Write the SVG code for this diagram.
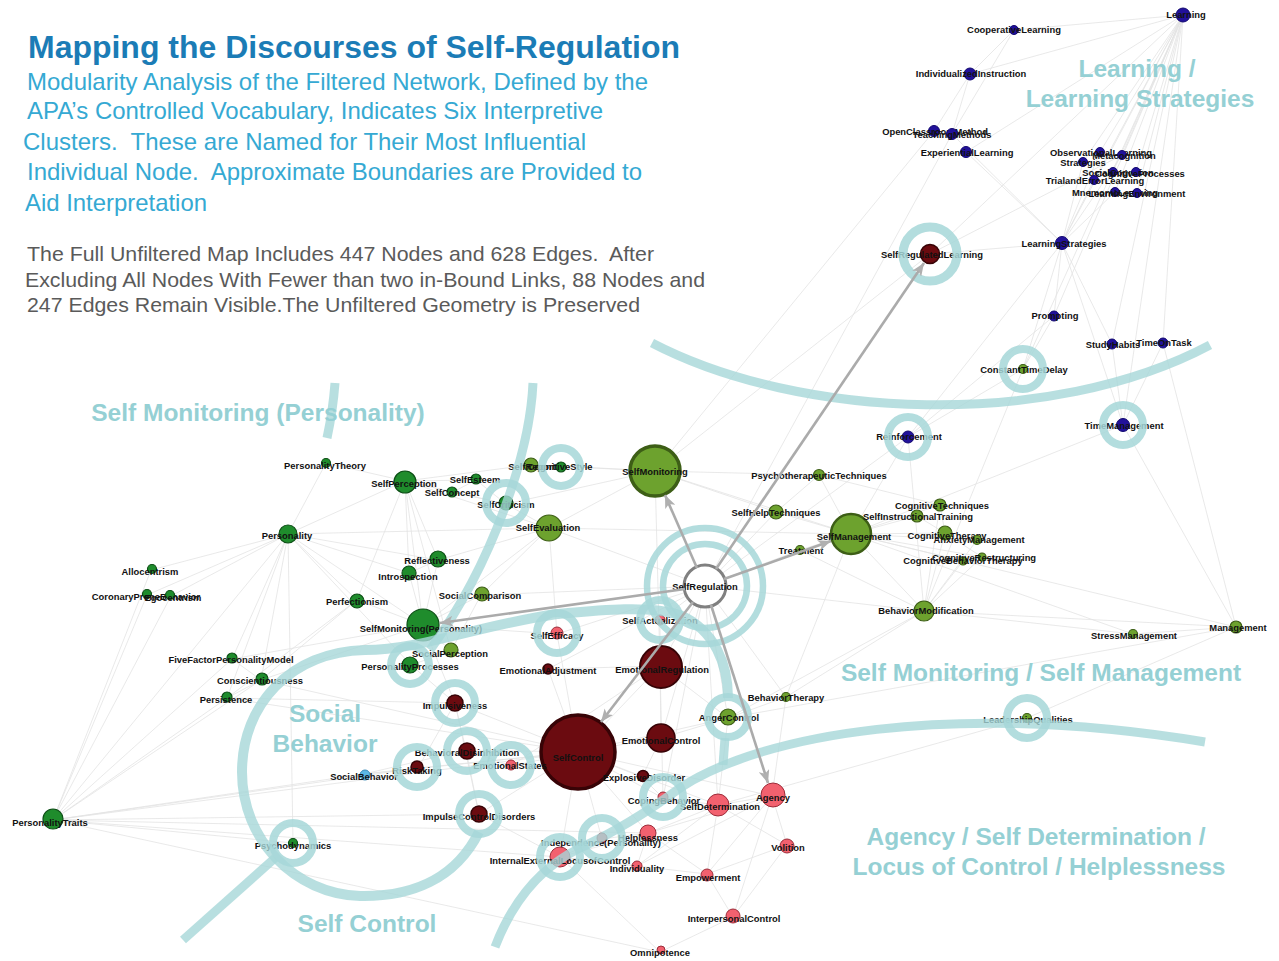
<svg xmlns="http://www.w3.org/2000/svg" width="1279" height="961" viewBox="0 0 1279 961">
<style>
.e{fill:none;stroke:#e3e3e3;stroke-width:0.8}
.a{fill:none;stroke:#ababab;stroke-width:2.6;marker-end:url(#ah)}
.nb{fill:#22119a;stroke:#120870;stroke-width:1}
.ng{fill:#1f8c2c;stroke:#0d4f16;stroke-width:1.2}
.no{fill:#6da22e;stroke:#3d5e16;stroke-width:1.2}
.nr{fill:#6b0b10;stroke:#370306;stroke-width:1.5}
.np{fill:#f2616f;stroke:#9c2c39;stroke-width:1}
.nl{fill:#5cb8e4;stroke:#3b8cb8;stroke-width:1}
.lb{font-family:"Liberation Sans",Arial,sans-serif;font-weight:bold;font-size:9.4px;fill:#111;text-anchor:middle}
.ring{fill:none;stroke:#a6d7d8;stroke-width:8;opacity:0.85}
.zone{fill:none;stroke:#a6d7d8;stroke-width:9;opacity:0.8}
.cl{font-family:"Liberation Sans",Arial,sans-serif;font-weight:bold;font-size:24.5px;fill:#95d0d4;text-anchor:middle}
.sub{font-family:"Liberation Sans Narrow","Liberation Sans",Arial,sans-serif;font-size:24px;fill:#35a9d3}
.gry{font-family:"Liberation Sans Narrow","Liberation Sans",Arial,sans-serif;font-size:21px;fill:#5a5a5a}
</style>
<defs>
<marker id="ah" viewBox="0 0 12 10" refX="12" refY="5" markerWidth="13" markerHeight="11" orient="auto" markerUnits="userSpaceOnUse"><path d="M0,0 L12,5 L0,10 L3,5 z" fill="#b0b0b0"/></marker>
</defs>
<rect width="1279" height="961" fill="#ffffff"/>

<g id="title-block">
<text x="28" y="58" font-family="Liberation Sans, Arial, sans-serif" font-weight="bold" font-size="31" fill="#1b7cb6" textLength="652" lengthAdjust="spacingAndGlyphs">Mapping the Discourses of Self-Regulation</text>
<text class="sub" x="27" y="90" textLength="621" lengthAdjust="spacingAndGlyphs">Modularity Analysis of the Filtered Network, Defined by the</text>
<text class="sub" x="27" y="119" textLength="576" lengthAdjust="spacingAndGlyphs">APA’s Controlled Vocabulary, Indicates Six Interpretive</text>
<text class="sub" x="23" y="150" textLength="563" lengthAdjust="spacingAndGlyphs" xml:space="preserve">Clusters.  These are Named for Their Most Influential</text>
<text class="sub" x="27" y="180" textLength="615" lengthAdjust="spacingAndGlyphs" xml:space="preserve">Individual Node.  Approximate Boundaries are Provided to</text>
<text class="sub" x="25" y="211" textLength="182" lengthAdjust="spacingAndGlyphs">Aid Interpretation</text>
<text class="gry" x="27" y="261" textLength="627" lengthAdjust="spacingAndGlyphs" xml:space="preserve">The Full Unfiltered Map Includes 447 Nodes and 628 Edges.  After</text>
<text class="gry" x="25" y="287" textLength="680" lengthAdjust="spacingAndGlyphs">Excluding All Nodes With Fewer than two in-Bound Links, 88 Nodes and</text>
<text class="gry" x="27" y="312" textLength="613" lengthAdjust="spacingAndGlyphs">247 Edges Remain Visible.The Unfiltered Geometry is Preserved</text>
</g>

<g id="connectors">
<path class="e" d="M1183 15L1014 30M1183 15L970 74M1183 15L966 152M1183 15L1100 152M1183 15L1122 155M1183 15L1083 162M1183 15L1113 172M1183 15L1136 172M1183 15L1094 180M1183 15L1115 192M1183 15L1137 193M1183 15L1062 243M1183 15L1054 316M1183 15L1112 344M1183 15L1163 343M1183 15L930 254M1183 15L1123 425M1183 15L1023 369M1014 30L952 134M1014 30L970 74M970 74L952 134M970 74L934 131M934 131L655 471M952 134L705 586M966 152L1062 243M952 134L1062 243M1062 243L1083 162M1062 243L1122 155M1062 243L1100 152M1062 243L930 254M1062 243L1054 316M1062 243L1112 344M1062 243L1123 425M1062 243L1023 369M1062 243L908 437M1062 243L1115 192M1062 243L1094 180M930 254L1122 155M930 254L655 471M1054 316L1023 369M1054 316L908 437M1112 344L1123 425M1163 343L1123 425M1163 343L1236 627M1123 425L1236 627M1123 425L851 534M908 437L924 611M908 437L851 534M908 437L705 586M1023 369L924 611M1023 369L908 437"/>
<path class="e" d="M851 534L800 550M851 534L776 512M851 534L819 475M851 534L940 505M851 534L917 516M851 534L945 533M851 534L977 540M851 534L963 561M851 534L982 557M851 534L924 611M851 534L1236 627M851 534L1133 634M851 534L655 471M851 534L786 697M851 534L549 528M924 611L945 533M924 611L963 561M924 611L982 557M924 611L940 505M924 611L977 540M924 611L1236 627M924 611L1133 634M924 611L786 697M924 611L728 718M924 611L705 586M924 611L800 550M819 475L776 512M819 475L655 471M819 475L940 505M776 512L655 471M776 512L705 586M800 550L705 586M940 505L945 533M917 516L945 533M945 533L982 557M1133 634L1236 627M1027 718L1236 627M1027 718L718 805M1236 627L728 718M655 471L549 528M655 471L561 466M655 471L530 465M655 471L506 504M655 471L660 666M705 586L549 528M705 586L481 595M705 586L557 634M705 586L660 620M705 586L660 666M705 586L786 697M705 586L728 718M705 586L663 798M705 586L718 805M705 586L661 738M705 586L548 669"/>
<path class="e" d="M288 534L326 463M288 534L405 481M288 534L151 570M288 534L171 596M288 534L147 595M288 534L409 573M288 534L438 560M288 534L357 600M288 534L423 625M288 534L232 659M288 534L261 680M288 534L227 698M288 534L411 665M288 534L549 528M288 534L293 843M405 481L476 480M405 481L453 492M405 481L506 504M405 481L409 573M405 481L438 560M405 481L423 625M405 481L326 463M405 481L451 651M405 481L530 465M405 481L549 528M405 481L357 600M423 625L438 560M423 625L409 573M423 625L357 600M423 625L481 595M423 625L451 651M423 625L411 665M423 625L455 703M423 625L557 634M423 625L549 528M423 625L232 659M423 625L261 680M438 560L409 573M438 560L549 528M506 504L549 528M506 504L453 492M506 504L476 480M476 480L453 492M549 528L481 595M549 528L557 634M481 595L451 651M451 651L411 665M411 665L455 703M357 600L261 680M357 600L227 698M232 659L261 680M261 680L227 698M53 820L151 570M53 820L147 595M53 820L171 596M53 820L227 698M53 820L261 680M53 820L232 659M53 820L364 774M53 820L418 768M53 820L293 843M53 820L479 814M53 820L578 752M53 820L560 857M53 820L288 534M53 820L648 833M53 820L660 952M261 680L578 752M227 698L578 752M227 698L455 703"/>
<path class="e" d="M578 752L660 666M578 752L661 738M578 752L548 669M578 752L455 703M578 752L466 750M578 752L418 768M578 752L511 766M578 752L479 814M578 752L642 777M578 752L663 798M578 752L718 805M578 752L648 833M578 752L560 857M578 752L602 839M578 752L364 774M578 752L728 718M578 752L557 634M578 752L772 796M660 666L661 738M660 666L548 669M660 666L660 620M660 666L728 718M660 666L663 798M660 666L511 766M661 738L728 718M661 738L642 777M455 703L466 750M455 703L479 814M455 703L418 768M364 774L418 768M364 774L466 750M466 750L479 814M466 750L511 766M479 814L560 857M642 777L663 798M772 796L718 805M772 796L787 845M772 796L707 874M772 796L733 917M772 796L648 833M772 796L786 697M772 796L637 866M718 805L648 833M718 805L707 874M718 805L787 845M718 805L663 798M718 805L637 866M718 805L728 718M560 857L648 833M560 857L602 839M560 857L637 866M560 857L660 952M560 857L707 874M733 917L660 952M733 917L707 874M648 833L707 874M648 833L637 866M648 833L602 839M707 874L787 845M787 845L733 917M786 697L728 718"/>
</g>

<g id="nodes">
<g id="n-learning"><circle class="nb" cx="1183" cy="15" r="7"/><text class="lb" x="1186" y="18">Learning</text></g>
<g id="n-cooperative-learning"><circle class="nb" cx="1014" cy="30" r="4.5"/><text class="lb" x="1014" y="33">CooperativeLearning</text></g>
<g id="n-individualized-instruction"><circle class="nb" cx="970" cy="74" r="6"/><text class="lb" x="971" y="77">IndividualizedInstruction</text></g>
<g id="n-open-classroom-method"><circle class="nb" cx="934" cy="131" r="5.5"/><text class="lb" x="935" y="135">OpenClassroomMethod</text></g>
<g id="n-teaching-methods"><circle class="nb" cx="952" cy="134" r="5.5"/><text class="lb" x="952" y="138">TeachingMethods</text></g>
<g id="n-experiential-learning"><circle class="nb" cx="966" cy="152" r="5.5"/><text class="lb" x="967" y="156">ExperientialLearning</text></g>
<g id="n-observational-learning"><circle class="nb" cx="1100" cy="152" r="4.5"/><text class="lb" x="1101" y="156">ObservationalLearning</text></g>
<g id="n-metacognition"><circle class="nb" cx="1122" cy="155" r="4.5"/><text class="lb" x="1124" y="159">Metacognition</text></g>
<g id="n-strategies"><circle class="nb" cx="1083" cy="162" r="4.5"/><text class="lb" x="1083" y="166">Strategies</text></g>
<g id="n-social-cognition"><circle class="nb" cx="1113" cy="172" r="4.5"/><text class="lb" x="1118" y="176">SocialCognition</text></g>
<g id="n-cognitive-processes"><circle class="nb" cx="1136" cy="172" r="4.5"/><text class="lb" x="1140" y="177">CognitiveProcesses</text></g>
<g id="n-trial-error-learning"><circle class="nb" cx="1094" cy="180" r="4.5"/><text class="lb" x="1095" y="184">TrialandErrorLearning</text></g>
<g id="n-mnemonic-learning"><circle class="nb" cx="1115" cy="192" r="4.5"/><text class="lb" x="1115" y="196">MnemonicLearning</text></g>
<g id="n-learning-environment"><circle class="nb" cx="1137" cy="193" r="4.5"/><text class="lb" x="1137" y="197">LearningEnvironment</text></g>
<g id="n-learning-strategies"><circle class="nb" cx="1062" cy="243" r="6.5"/><text class="lb" x="1064" y="247">LearningStrategies</text></g>
<g id="n-prompting"><circle class="nb" cx="1054" cy="316" r="5"/><text class="lb" x="1055" y="319">Prompting</text></g>
<g id="n-study-habits"><circle class="nb" cx="1112" cy="344" r="5"/><text class="lb" x="1113" y="348">StudyHabits</text></g>
<g id="n-time-on-task"><circle class="nb" cx="1163" cy="343" r="5"/><text class="lb" x="1164" y="346">TimeOnTask</text></g>
<g id="n-reinforcement"><circle class="nb" cx="908" cy="437" r="6"/><text class="lb" x="909" y="440">Reinforcement</text></g>
<g id="n-time-management"><circle class="nb" cx="1123" cy="425" r="6.5"/><text class="lb" x="1124" y="429">TimeManagement</text></g>

<g id="n-self-regulated-learning"><circle class="nr" cx="930" cy="254" r="9.5"/><text class="lb" x="932" y="258">SelfRegulatedLearning</text></g>
<g id="n-constant-time-delay"><circle class="no" cx="1023" cy="369" r="4.5"/><text class="lb" x="1024" y="373">ConstantTimeDelay</text></g>

<g id="n-self-monitoring"><circle class="no" cx="655" cy="471" r="25" style="stroke-width:3.5"/><text class="lb" x="655" y="475">SelfMonitoring</text></g>
<g id="n-psychotherapeutic-techniques"><circle class="no" cx="819" cy="475" r="5.5"/><text class="lb" x="819" y="479">PsychotherapeuticTechniques</text></g>
<g id="n-self-help-techniques"><circle class="no" cx="776" cy="512" r="7"/><text class="lb" x="776" y="516">SelfHelpTechniques</text></g>
<g id="n-self-management"><circle class="no" cx="851" cy="534" r="20" style="stroke-width:2.5"/><text class="lb" x="854" y="540">SelfManagement</text></g>
<g id="n-treatment"><circle class="no" cx="800" cy="550" r="4.5"/><text class="lb" x="801" y="554">Treatment</text></g>
<g id="n-cognitive-techniques"><circle class="no" cx="940" cy="505" r="6"/><text class="lb" x="942" y="509">CognitiveTechniques</text></g>
<g id="n-self-instructional-training"><circle class="no" cx="917" cy="516" r="6"/><text class="lb" x="918" y="520">SelfInstructionalTraining</text></g>
<g id="n-cognitive-therapy"><circle class="no" cx="945" cy="533" r="7"/><text class="lb" x="947" y="539">CognitiveTherapy</text></g>
<g id="n-anxiety-management"><circle class="no" cx="977" cy="540" r="4.5"/><text class="lb" x="979" y="543">AnxietyManagement</text></g>
<g id="n-cognitive-behavior-therapy"><circle class="no" cx="963" cy="561" r="4"/><text class="lb" x="963" y="564">CognitiveBehaviorTherapy</text></g>
<g id="n-cognitive-restructuring"><circle class="no" cx="982" cy="557" r="4"/><text class="lb" x="984" y="561">CognitiveRestructuring</text></g>
<g id="n-behavior-modification"><circle class="no" cx="924" cy="611" r="10"/><text class="lb" x="926" y="614">BehaviorModification</text></g>
<g id="n-stress-management"><circle class="no" cx="1133" cy="634" r="4.5"/><text class="lb" x="1134" y="639">StressManagement</text></g>
<g id="n-management"><circle class="no" cx="1236" cy="627" r="6"/><text class="lb" x="1238" y="631">Management</text></g>
<g id="n-behavior-therapy"><circle class="no" cx="786" cy="697" r="4.5"/><text class="lb" x="786" y="701">BehaviorTherapy</text></g>
<g id="n-anger-control"><circle class="no" cx="728" cy="717" r="8"/><text class="lb" x="729" y="721">AngerControl</text></g>
<g id="n-leadership-qualities"><circle class="no" cx="1027" cy="718" r="4.5"/><text class="lb" x="1028" y="723">LeadershipQualities</text></g>
<g id="n-self-report"><circle class="no" cx="531" cy="465" r="7"/><text class="lb" x="532" y="470">SelfReport</text></g>
<g id="n-cognitive-style"><circle class="ng" cx="561" cy="467" r="5"/><text class="lb" x="560" y="470">CognitiveStyle</text></g>
<g id="n-self-evaluation"><circle class="no" cx="549" cy="528" r="13"/><text class="lb" x="548" y="531">SelfEvaluation</text></g>
<g id="n-social-comparison"><circle class="no" cx="482" cy="594" r="7"/><text class="lb" x="480" y="599">SocialComparison</text></g>
<g id="n-social-perception"><circle class="no" cx="451" cy="650" r="7"/><text class="lb" x="450" y="657">SocialPerception</text></g>

<g id="n-self-criticism"><circle class="ng" cx="506" cy="503" r="7"/><text class="lb" x="506" y="508">SelfCriticism</text></g>
<g id="n-personality-theory"><circle class="ng" cx="326" cy="463" r="4.5"/><text class="lb" x="325" y="469">PersonalityTheory</text></g>
<g id="n-self-perception"><circle class="ng" cx="405" cy="482" r="11"/><text class="lb" x="404" y="487">SelfPerception</text></g>
<g id="n-self-esteem"><circle class="ng" cx="476" cy="479" r="5"/><text class="lb" x="475" y="483">SelfEsteem</text></g>
<g id="n-self-concept"><circle class="ng" cx="452" cy="492" r="5"/><text class="lb" x="452" y="496">SelfConcept</text></g>
<g id="n-personality"><circle class="ng" cx="288" cy="534" r="9"/><text class="lb" x="287" y="539">Personality</text></g>
<g id="n-allocentrism"><circle class="ng" cx="152" cy="569" r="4.5"/><text class="lb" x="150" y="575">Allocentrism</text></g>
<g id="n-coronary-prone-behavior"><circle class="ng" cx="147" cy="594" r="4.5"/><text class="lb" x="146" y="600">CoronaryProneBehavior</text></g>
<g id="n-egocentrism"><circle class="ng" cx="170" cy="595" r="4.5"/><text class="lb" x="173" y="601">Egocentrism</text></g>
<g id="n-reflectiveness"><circle class="ng" cx="438" cy="559" r="8"/><text class="lb" x="437" y="564">Reflectiveness</text></g>
<g id="n-introspection"><circle class="ng" cx="409" cy="573" r="7"/><text class="lb" x="408" y="580">Introspection</text></g>
<g id="n-perfectionism"><circle class="ng" cx="357" cy="601" r="7"/><text class="lb" x="357" y="605">Perfectionism</text></g>
<g id="n-self-monitoring-personality"><circle class="ng" cx="423" cy="625" r="16"/><text class="lb" x="421" y="632">SelfMonitoring(Personality)</text></g>
<g id="n-personality-processes"><circle class="ng" cx="410" cy="665" r="8"/><text class="lb" x="410" y="670">PersonalityProcesses</text></g>
<g id="n-five-factor-personality-model"><circle class="ng" cx="232" cy="658" r="5"/><text class="lb" x="231" y="663">FiveFactorPersonalityModel</text></g>
<g id="n-conscientiousness"><circle class="ng" cx="262" cy="679" r="6"/><text class="lb" x="260" y="684">Conscientiousness</text></g>
<g id="n-persistence"><circle class="ng" cx="227" cy="697" r="5"/><text class="lb" x="226" y="703">Persistence</text></g>
<g id="n-personality-traits"><circle class="ng" cx="53" cy="819" r="10"/><text class="lb" x="50" y="826">PersonalityTraits</text></g>
<g id="n-psychodynamics"><circle class="ng" cx="293" cy="843" r="4.5"/><text class="lb" x="293" y="849">Psychodynamics</text></g>
<g id="n-social-behavior"><circle class="nl" cx="365" cy="775" r="5"/><text class="lb" x="364" y="780">SocialBehavior</text></g>

<g id="n-self-control"><circle class="nr" cx="578" cy="752" r="37" style="stroke-width:3.5"/><text class="lb" x="578" y="761">SelfControl</text></g>
<g id="n-emotional-regulation"><circle class="nr" cx="661" cy="667" r="21" style="stroke-width:2"/><text class="lb" x="662" y="673">EmotionalRegulation</text></g>
<g id="n-emotional-control"><circle class="nr" cx="661" cy="738" r="14"/><text class="lb" x="661" y="744">EmotionalControl</text></g>
<g id="n-emotional-adjustment"><circle class="nr" cx="548" cy="669" r="5"/><text class="lb" x="548" y="674">EmotionalAdjustment</text></g>
<g id="n-impulsiveness"><circle class="nr" cx="455" cy="703" r="8"/><text class="lb" x="455" y="709">Impulsiveness</text></g>
<g id="n-behavioral-disinhibition"><circle class="nr" cx="467" cy="751" r="8"/><text class="lb" x="467" y="756">BehavioralDisinhibition</text></g>
<g id="n-risk-taking"><circle class="nr" cx="417" cy="767" r="6"/><text class="lb" x="417" y="774">RiskTaking</text></g>
<g id="n-impulse-control-disorders"><circle class="nr" cx="479" cy="814" r="8"/><text class="lb" x="479" y="820">ImpulseControlDisorders</text></g>
<g id="n-explosive-disorder"><circle class="nr" cx="643" cy="776" r="5.5"/><text class="lb" x="644" y="781">ExplosiveDisorder</text></g>

<g id="n-emotional-states"><circle class="np" cx="511" cy="765" r="5"/><text class="lb" x="510" y="769">EmotionalStates</text></g>
<g id="n-self-efficacy"><circle class="np" cx="557" cy="633" r="6"/><text class="lb" x="557" y="639">SelfEfficacy</text></g>
<g id="n-self-actualization"><circle class="np" cx="660" cy="620" r="5"/><text class="lb" x="660" y="624">SelfActualization</text></g>
<g id="n-coping-behavior"><circle class="np" cx="663" cy="797" r="5"/><text class="lb" x="664" y="804">CopingBehavior</text></g>
<g id="n-self-determination"><circle class="np" cx="718" cy="805" r="11"/><text class="lb" x="720" y="810">SelfDetermination</text></g>
<g id="n-agency"><circle class="np" cx="773" cy="795" r="12"/><text class="lb" x="773" y="801">Agency</text></g>
<g id="n-helplessness"><circle class="np" cx="648" cy="833" r="8"/><text class="lb" x="648" y="841">Helplessness</text></g>
<g id="n-independence-personality"><circle class="np" cx="602" cy="838" r="5"/><text class="lb" x="601" y="846">Independence(Personality)</text></g>
<g id="n-internal-external-locus"><circle class="np" cx="560" cy="857" r="10"/><text class="lb" x="560" y="864">InternalExternalLocusofControl</text></g>
<g id="n-individuality"><circle class="np" cx="637" cy="866" r="5"/><text class="lb" x="637" y="872">Individuality</text></g>
<g id="n-empowerment"><circle class="np" cx="707" cy="875" r="6"/><text class="lb" x="708" y="881">Empowerment</text></g>
<g id="n-volition"><circle class="np" cx="787" cy="846" r="7"/><text class="lb" x="788" y="851">Volition</text></g>
<g id="n-interpersonal-control"><circle class="np" cx="733" cy="916" r="7"/><text class="lb" x="734" y="922">InterpersonalControl</text></g>
<g id="n-omnipotence"><circle class="np" cx="661" cy="950" r="4"/><text class="lb" x="660" y="956">Omnipotence</text></g>

<g id="n-self-regulation"><circle cx="705" cy="586" r="21" fill="#ffffff" stroke="#808080" stroke-width="3"/><text class="lb" x="705" y="590">SelfRegulation</text></g>
</g>

<g id="boundaries">
<path class="zone" d="M652,343 C800,420 1050,430 1210,345"/>
<path class="zone" d="M335,383 Q333,410 327,438"/>
<path class="zone" d="M533,383 C530,450 495,560 430,650"/>
<path class="zone" style="stroke-width:10" d="M479,832 C455,880 410,897 360,896 C295,894 242,840 242,772 C242,705 290,652 365,650 C420,650 480,625 557,614 C600,610 650,605 680,615 C715,630 728,665 728,698"/>
<path class="zone" d="M183,940 L275,858"/>
<path class="zone" d="M495,947 C515,895 545,865 580,848 C615,832 650,810 680,788 C760,735 950,700 1205,742"/>
<path class="zone" d="M725,738 L723,765"/>
<circle class="ring" cx="705" cy="586" r="42" style="stroke-width:6.5"/>
<circle class="ring" cx="705" cy="586" r="58" style="stroke-width:6.5"/>
<circle class="ring" cx="930" cy="254" r="27" style="stroke-width:9"/>
<circle class="ring" cx="1023" cy="369" r="20"/>
<circle class="ring" cx="908" cy="437" r="20"/>
<circle class="ring" cx="1123" cy="425" r="20"/>
<circle class="ring" cx="561" cy="467" r="19"/>
<circle class="ring" cx="506" cy="503" r="20"/>
<circle class="ring" cx="410" cy="665" r="19"/>
<circle class="ring" cx="557" cy="633" r="20"/>
<circle class="ring" cx="660" cy="620" r="20"/>
<circle class="ring" cx="728" cy="717" r="20"/>
<circle class="ring" cx="1027" cy="718" r="20"/>
<circle class="ring" cx="455" cy="703" r="20"/>
<circle class="ring" cx="467" cy="751" r="20"/>
<circle class="ring" cx="417" cy="767" r="20"/>
<circle class="ring" cx="511" cy="765" r="20"/>
<circle class="ring" cx="479" cy="814" r="20"/>
<circle class="ring" cx="663" cy="797" r="20"/>
<circle class="ring" cx="602" cy="838" r="20"/>
<circle class="ring" cx="560" cy="857" r="20"/>
<circle class="ring" cx="293" cy="843" r="20"/>
</g>

<g id="highlight-connectors">
<line class="a" x1="697" y1="568" x2="665" y2="495"/>
<line class="a" x1="716" y1="569" x2="924" y2="263"/>
<line class="a" x1="724" y1="579" x2="831" y2="541"/>
<line class="a" x1="685" y1="589" x2="440" y2="623"/>
<line class="a" x1="693" y1="602" x2="601" y2="722"/>
<line class="a" x1="711" y1="605" x2="768" y2="783"/>
</g>

<g id="cluster-labels">
<text class="cl" x="1137" y="77">Learning /</text>
<text class="cl" x="1140" y="107">Learning Strategies</text>
<text class="cl" x="258" y="421">Self Monitoring (Personality)</text>
<text class="cl" x="1041" y="681">Self Monitoring / Self Management</text>
<text class="cl" x="325" y="722">Social</text>
<text class="cl" x="325" y="752">Behavior</text>
<text class="cl" x="367" y="932">Self Control</text>
<text class="cl" x="1036" y="845">Agency / Self Determination /</text>
<text class="cl" x="1039" y="875">Locus of Control / Helplessness</text>
</g>
</svg>
